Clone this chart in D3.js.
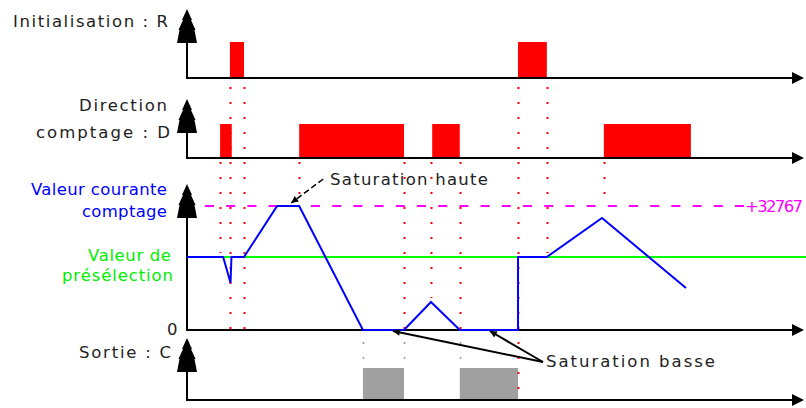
<!DOCTYPE html>
<html>
<head>
<meta charset="utf-8">
<script src="https://cdn.jsdelivr.net/npm/d3@7"></script>
<style>
body { margin: 0; background: #fff; }
text { font-family: "DejaVu Sans", Verdana, sans-serif; font-size: 16.5px; }
</style>
</head>
<body>
<script>
// signal edges, time in arbitrary units (0..100)
var resetPulses = [[7.0, 9.3], [54.0, 58.7]];
var directionPulses = [[5.4, 7.3], [18.3, 35.4], [40.0, 44.5], [68.0, 82.2]];
var outputPulses = [[28.7, 35.4], [44.5, 54.0]];

// counter value
var counterTimes = [0, 5.9, 7.1, 7.25, 9.3, 14.7, 18.3, 28.7, 35.4, 39.8, 44.5, 54.0, 54.0, 58.7, 67.7, 81.4];
var counterValues = [19300, 19300, 12500, 19300, 19300, 32767, 32767, 0, 0, 7400, 0, 0, 19300, 19300, 29600, 11100];
var presetValue = 19300;
var maxValue = 32767;

// dotted guides: time, panel it starts under, where it stops
var guideTimes = [5.4, 7.0, 9.3, 18.3, 35.4, 39.8, 44.5, 54.0, 58.7, 68.0];
var guideFrom = ["D", "R", "R", "D", "D", "D", "D", "R", "R", "D"];
var guideTo = [19300, 0, 0, 32767, 0, 7400, 0, "C", 19300, 32767];
var outputGuideTimes = [28.7, 35.4, 44.5];

var width = 806,
    height = 408;

var x = d3.scaleLinear().domain([0, 100]).range([187, 800]);
var yR = d3.scaleLinear().domain([0, 1]).range([78, 42]);
var yD = d3.scaleLinear().domain([0, 1]).range([158, 124]);
var yV = d3.scaleLinear().domain([0, maxValue]).range([330, 206]);
var yC = d3.scaleLinear().domain([0, 1]).range([400, 368]);

var svg = d3.select("body").append("svg")
    .attr("width", width)
    .attr("height", height);

svg.append("defs").append("marker")
    .attr("id", "ah")
    .attr("viewBox", "0 0 10 10")
    .attr("refX", 10)
    .attr("refY", 5)
    .attr("markerWidth", 10)
    .attr("markerHeight", 7)
    .attr("markerUnits", "userSpaceOnUse")
    .attr("orient", "auto")
    .append("path")
    .attr("d", "M0,0L10,5L0,10z")
    .attr("fill", "#000");

function pulses(data, y, colour) {
    svg.append("g").selectAll("rect").data(data)
        .enter().append("rect")
        .attr("x", function(d) { return x(d[0]); })
        .attr("width", function(d) { return x(d[1]) - x(d[0]); })
        .attr("y", y(1))
        .attr("height", y(0) - y(1))
        .attr("fill", colour);
}

pulses(resetPulses, yR, "#ff0000");
pulses(directionPulses, yD, "#ff0000");
pulses(outputPulses, yC, "#a0a0a0");

// red dotted guides
var guideTop = { R: yR(0) + 9, D: yD(0) + 4 };
svg.append("g").selectAll("line").data(guideTimes)
    .enter().append("line")
    .attr("x1", function(d) { return Math.round(x(d)) + 0.5; })
    .attr("x2", function(d) { return Math.round(x(d)) + 0.5; })
    .attr("y1", function(d, i) { return guideTop[guideFrom[i]]; })
    .attr("y2", function(d, i) {
        var to = guideTo[i];
        if (to === "C") return yC(0);
        if (to === 0) return yV(0);
        return yV(to) - 4;
    })
    .attr("stroke", "#ff0000")
    .attr("stroke-width", 2)
    .attr("stroke-dasharray", "2,13");

svg.append("g").selectAll("line").data(outputGuideTimes)
    .enter().append("line")
    .attr("x1", function(d) { return Math.round(x(d)) + 0.5; })
    .attr("x2", function(d) { return Math.round(x(d)) + 0.5; })
    .attr("y1", 342)
    .attr("y2", 362)
    .attr("stroke", "#999")
    .attr("stroke-width", 1.5)
    .attr("stroke-dasharray", "2,13");

// axes with arrows
var treePts = [[0, 0], [5, 11], [4, 11], [8.5, 21], [7.5, 21], [10, 34], [-10, 34], [-7.5, 21], [-8.5, 21], [-4, 11], [-5, 11]];
var baselines = [yR(0), yD(0), yV(0), yC(0)];
var arrowTops = [9, 99, 184, 338];

baselines.forEach(function(b, i) {
    var top = arrowTops[i];
    svg.append("line")
        .attr("x1", x(0)).attr("x2", x(0))
        .attr("y1", top + 34).attr("y2", b + 1)
        .attr("stroke", "#000").attr("stroke-width", 2);
    svg.append("polygon")
        .attr("points", treePts.map(function(p) { return [x(0) + p[0], top + p[1]]; }).join(" "))
        .attr("fill", "#000");
    svg.append("line")
        .attr("x1", x(0) - 1).attr("x2", 795)
        .attr("y1", b).attr("y2", b)
        .attr("stroke", "#000").attr("stroke-width", 2);
    svg.append("polygon")
        .attr("points", [[792, b - 6], [804, b], [792, b + 6]].join(" "))
        .attr("fill", "#000");
});

// preset and max levels
svg.append("line")
    .attr("x1", x(0)).attr("x2", width)
    .attr("y1", yV(presetValue)).attr("y2", yV(presetValue))
    .attr("stroke", "#00ff00").attr("stroke-width", 2);

svg.append("line")
    .attr("x1", 205).attr("x2", 744)
    .attr("y1", yV(maxValue)).attr("y2", yV(maxValue))
    .attr("stroke", "#ff00ff").attr("stroke-width", 2)
    .attr("stroke-dasharray", "9,12.2");

var counterLine = d3.line()
    .x(function(d) { return x(d); })
    .y(function(d, i) { return yV(counterValues[i]); });

svg.append("path")
    .datum(counterTimes)
    .attr("d", counterLine)
    .attr("fill", "none")
    .attr("stroke", "#0000ff")
    .attr("stroke-width", 2);

// labels
function label(txt, xx, yy, len, colour) {
    svg.append("text")
        .attr("x", xx).attr("y", yy)
        .attr("textLength", len)
        .attr("lengthAdjust", "spacing")
        .attr("fill", colour || "#222")
        .text(txt);
}

label("Initialisation :  R", 13, 27, 155);
label("Direction", 79, 111, 88);
label("comptage :  D", 36, 138, 134);
label("Valeur courante", 31, 195, 136, "#0000ff");
label("comptage", 82, 217, 85, "#0000ff");
label("Valeur de", 88, 261, 83, "#00ee00");
label("présélection", 62, 281, 111, "#00ee00");
label("0", 167, 335, 8);
label("Sortie :  C", 79, 358, 92);
label("+32767", 745, 212, 58, "#ff00ff");
label("Saturation haute", 330, 185, 158);
label("Saturation basse", 546, 367, 169);

// annotation arrows
svg.append("line")
    .attr("x1", x(17) + 32).attr("y1", 179)
    .attr("x2", x(17)).attr("y2", yV(maxValue) - 3)
    .attr("stroke", "#000").attr("stroke-width", 1.5)
    .attr("stroke-dasharray", "6,3")
    .attr("marker-end", "url(#ah)");

[33.6, 49.4].forEach(function(t) {
    svg.append("line")
        .attr("x1", 543).attr("y1", 362)
        .attr("x2", x(t)).attr("y2", yV(0) + 1)
        .attr("stroke", "#000").attr("stroke-width", 2)
        .attr("marker-end", "url(#ah)");
});
</script>
</body>
</html>
